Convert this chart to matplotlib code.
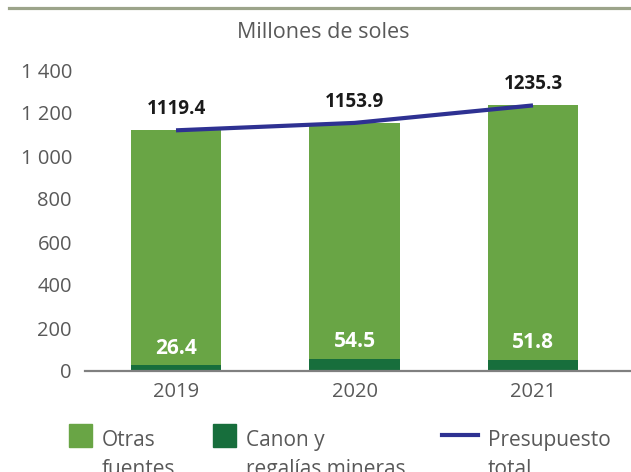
import matplotlib
matplotlib.use('Agg')
import matplotlib.pyplot as plt
from matplotlib.lines import Line2D
from matplotlib.patches import Rectangle
from matplotlib.ticker import FuncFormatter

plt.rcParams['font.family'] = ['Open Sans', 'DejaVu Sans']

# data (millones de soles)
years = ['2019', '2020', '2021']
canon = [26.4, 54.5, 51.8]
total = [1119.4, 1153.9, 1235.3]
otras = [t - c for t, c in zip(total, canon)]
yticks = [0, 200, 400, 600, 800, 1000, 1200, 1400]

light_green = '#69A545'
dark_green = '#176E3C'
navy = '#2E3192'
grey_txt = '#595959'

fig = plt.figure(figsize=(6.31, 4.72), dpi=100)
ax = fig.add_axes([85 / 631, 101 / 472, 546 / 631, 301 / 472])

x = list(range(len(years)))
ax.bar(x, canon, width=0.505, color=dark_green, zorder=2)
ax.bar(x, otras, width=0.505, bottom=canon, color=light_green, zorder=2)
ax.plot(x, total, color=navy, lw=3, solid_capstyle='butt', zorder=3)

for xi, v in zip(x, total):
    ax.annotate(f'{v:.1f}', (xi, v), xytext=(0, 11.5), textcoords='offset points',
                ha='center', va='baseline', fontsize=13.5, fontweight='bold',
                color='#1a1a1a', zorder=4)
for xi, v in zip(x, canon):
    ax.annotate(f'{v:.1f}', (xi, v), xytext=(0, 8.5), textcoords='offset points',
                ha='center', va='baseline', fontsize=15, fontweight='bold',
                color='white', zorder=4)

ax.set_xlim(-0.51, 2.549)
ax.set_ylim(0, 1400)
ax.set_xticks(x)
ax.set_xticklabels(years)
ax.set_yticks(yticks)
ax.yaxis.set_major_formatter(FuncFormatter(lambda v, p: f'{v:,.0f}'.replace(',', ' ')))
ax.tick_params(axis='y', length=0, pad=9.4, labelsize=14.5, labelcolor=grey_txt)
ax.tick_params(axis='x', length=0, pad=8, labelsize=14.5, labelcolor=grey_txt)
for s in ['left', 'top', 'right']:
    ax.spines[s].set_visible(False)
ax.spines['bottom'].set_color('#808080')
ax.spines['bottom'].set_linewidth(1.6)
ax.spines['bottom'].set_zorder(5)

# top rule and title
fig.add_artist(Line2D([9 / 631, 1], [1 - 8 / 472] * 2, color='#9CA48A', lw=2.3,
                      transform=fig.transFigure))
fig.text(323 / 631, 1 - 32 / 472, 'Millones de soles', ha='center', va='center',
         fontsize=15.5, color=grey_txt)

# legend drawn by hand (labels wrap onto two lines)
W, H = 631, 472
def fx(px):
    return px / W
def fy(py):
    return 1 - py / H

fig.add_artist(Rectangle((fx(69), fy(447)), 23 / W, 23 / H, color=light_green,
                         transform=fig.transFigure))
fig.add_artist(Rectangle((fx(213), fy(447)), 23 / W, 23 / H, color=dark_green,
                         transform=fig.transFigure))
fig.add_artist(Line2D([fx(442), fx(478)], [fy(435)] * 2, color=navy, lw=3,
                      transform=fig.transFigure))

legend_text = [(101.5, ['Otras', 'fuentes']),
               (246, ['Canon y', 'regalías mineras']),
               (488, ['Presupuesto', 'total'])]
for px, lines in legend_text:
    for i, line in enumerate(lines):
        fig.text(fx(px), fy(446 + 29 * i), line, ha='left', va='baseline',
                 fontsize=15, color=grey_txt)

fig.savefig('out.png', dpi=100)
